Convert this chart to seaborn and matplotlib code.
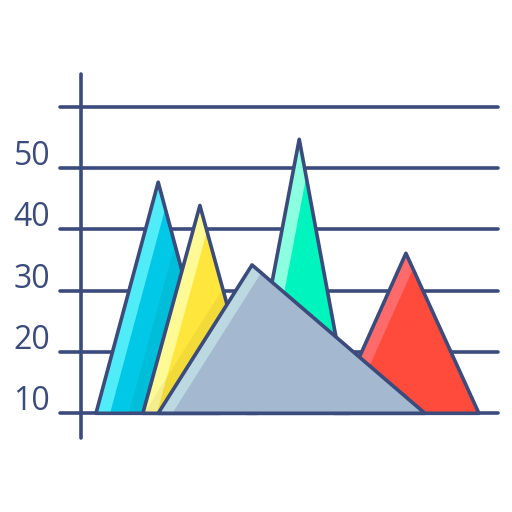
import numpy as np
import pandas as pd
import seaborn as sns
import matplotlib.pyplot as plt
from matplotlib.patches import Polygon

# chart data: one triangle per series (base at 10, peak value)
series = ["cyan", "yellow", "green", "red", "gray"]
left_x = [2.45, 10.1, 27.1, 41.3, 12.6]
peak_x = [12.6, 19.4, 35.6, 53.0, 27.9]
right_x = [22.7, 28.7, 43.9, 64.9, 56.1]
peak_val = [47.7, 43.9, 54.7, 36.1, 34.2]
base_val = 10

main_colors = ["#00c8e6", "#ffe63c", "#00f5be", "#ff4b3c", "#a4b9cf"]
light_colors = ["#50ecf8", "#fffa96", "#8cffe0", "#ff6b6b", "#bcd9e2"]
# which triangle casts a shadow onto which (the one on top)
shadow_from = {"cyan": "yellow", "yellow": "gray", "green": "gray", "red": "gray"}

grid_vals = [10, 20, 30, 40, 50, 60]
tick_labels = ["10", "20", "30", "40", "50"]

ink = "#3a4b7c"

sns.set_theme(style="white")
plt.rcParams["font.family"] = ["Open Sans", "DejaVu Sans"]

fig = plt.figure(figsize=(5.12, 5.12), dpi=100)
ax = fig.add_axes([0, 0, 1, 1])
ax.set_xlim(-13.2, 70.3)
ax.set_ylim(-6.1, 77.42)
ax.axis("off")

# grid lines and the y axis
grid_df = pd.DataFrame({"y": grid_vals})
for y in grid_df["y"]:
    ax.plot([-3.4, 68.0], [y, y], color=ink, lw=2.6, solid_capstyle="round", zorder=1)
ax.plot([0, 0], [6.0, 65.3], color=ink, lw=2.6, solid_capstyle="round", zorder=1)

for lab in tick_labels:
    ax.text(-5.0, float(lab) + 1.9, lab, ha="right", va="center",
            fontsize=23, color=ink, zorder=1)

tri = {}
for i, name in enumerate(series):
    tri[name] = np.array([[left_x[i], base_val], [peak_x[i], peak_val[i]],
                          [right_x[i], base_val]])

draw_order = ["cyan", "yellow", "green", "red", "gray"]
band = 2.3
shift = 2.3
for z, name in enumerate(draw_order):
    i = series.index(name)
    pts = tri[name]
    zb = 10 + z * 5
    body = Polygon(pts, closed=True, facecolor=main_colors[i], edgecolor="none", zorder=zb)
    ax.add_patch(body)
    # light band along the left edge
    hl = Polygon([pts[0], pts[1], pts[1] + [band, 0], pts[0] + [band, 0]],
                 closed=True, facecolor=light_colors[i], edgecolor="none", zorder=zb + 1)
    ax.add_patch(hl)
    hl.set_clip_path(body)
    # shadow of the triangle in front
    if name in shadow_from:
        sh_pts = tri[shadow_from[name]] - [shift, 0]
        sh = Polygon(sh_pts, closed=True, facecolor="black", alpha=0.05,
                     edgecolor="none", zorder=zb + 2)
        ax.add_patch(sh)
        sh.set_clip_path(body)
    outline = Polygon(pts, closed=True, facecolor="none", edgecolor=ink, lw=2.6,
                      joinstyle="round", zorder=zb + 3)
    ax.add_patch(outline)

fig.savefig("out.png", dpi=100)
